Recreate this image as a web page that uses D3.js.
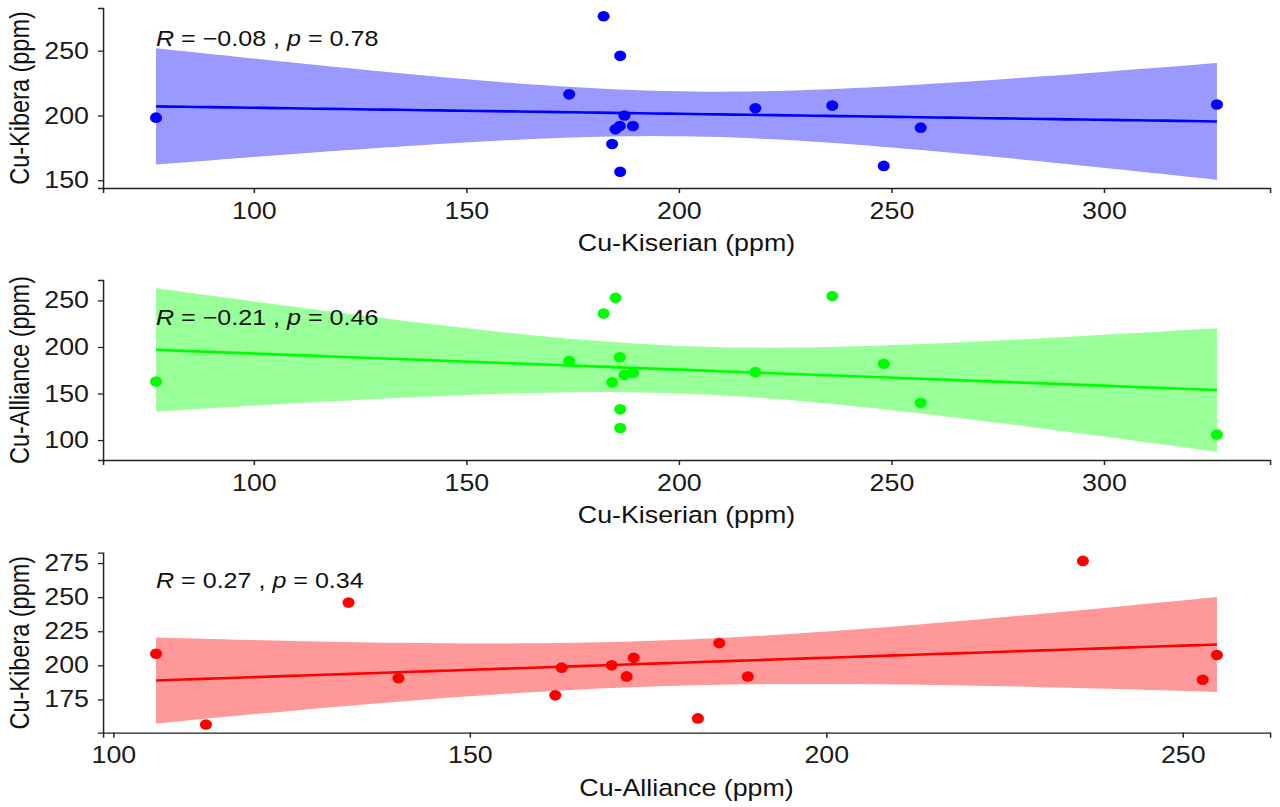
<!DOCTYPE html>
<html><head><meta charset="utf-8">
<script src="https://cdn.jsdelivr.net/npm/d3@7"></script>
<style>
body{margin:0;background:#fff;}
text{font-family:"Liberation Sans",Arial,sans-serif;}
</style>
</head><body>
<svg id="chart" width="1280" height="807"></svg>
<script>
// ---- data ----
const kiserian = [77.0,174.2,182.3,186.2,187.2,189.2,186.1,185.1,184.3,186.2,218.0,236.1,248.2,256.9,326.6];
const alliance = [162.9,185.0,236.0,133.0,169.9,172.0,189.0,252.8,162.0,113.0,173.0,254.8,182.0,140.0,106.0];
const kibera   = [198.3,216.3,276.6,246.0,200.0,191.9,191.8,189.4,178.0,156.6,205.5,207.6,161.1,190.6,208.5];

const xTitles = ["Cu-Kiserian (ppm)","Cu-Kiserian (ppm)","Cu-Alliance (ppm)"];
const yTitles = ["Cu-Kibera (ppm)","Cu-Alliance (ppm)","Cu-Kibera (ppm)"];
const statR = ["\u22120.08","\u22120.21","0.27"];
const statP = ["0.78","0.46","0.34"];
const xTickValues = [[100,150,200,250,300],[100,150,200,250,300],[100,150,200,250]];
const yTickValues = [[150,200,250],[100,150,200,250],[175,200,225,250,275]];

// ---- styling / layout ----
const pointColors = ["#0000FF","#00FF00","#FF0000"];
const ribbonColors = ["#9999FF","#99FF99","#FF9999"];
const SX = 1.14;               // the reference is stretched horizontally
const plotLeft = 103/SX, plotRight = 1270/SX;
const panelTops = [8, 280, 552.7];
const panelH = 180;
const labelOffsets = [38, 45, 35];
const FS = 23.5;

const svg = d3.select("#chart");
const root = svg.append("g").attr("transform", `scale(${SX},1)`);

const series = [
  {x: kiserian, y: kibera},
  {x: kiserian, y: alliance},
  {x: alliance, y: kibera}
];

function fit(xs, ys){
  const n = xs.length;
  const mx = d3.mean(xs), my = d3.mean(ys);
  let sxx=0, sxy=0;
  for(let i=0;i<n;i++){ sxx += (xs[i]-mx)**2; sxy += (xs[i]-mx)*(ys[i]-my); }
  const b = sxy/sxx, a = my - b*mx;
  let sse = 0;
  for(let i=0;i<n;i++){ sse += (ys[i]-(a+b*xs[i]))**2; }
  const s = Math.sqrt(sse/(n-2));
  const t = 2.160369; // qt(0.975, 13)
  const x0 = d3.min(xs), x1 = d3.max(xs);
  return d3.range(80).map(i => {
    const xv = x0 + (x1-x0)*i/79;
    const yh = a + b*xv;
    const se = s*Math.sqrt(1/n + (xv-mx)**2/sxx);
    return {x: xv, y: yh, lo: yh - t*se, hi: yh + t*se};
  });
}

function expand(lo, hi){ const d=(hi-lo)*0.05; return [lo-d, hi+d]; }

series.forEach((s, k) => {
  const top = panelTops[k], bottom = top + panelH;
  const pts = fit(s.x, s.y);
  const xDom = expand(d3.min(s.x), d3.max(s.x));
  const yDom = expand(Math.min(d3.min(s.y), d3.min(pts, d=>d.lo)), Math.max(d3.max(s.y), d3.max(pts, d=>d.hi)));
  const x = d3.scaleLinear().domain(xDom).range([plotLeft, plotRight]);
  const y = d3.scaleLinear().domain(yDom).range([bottom, top]);
  const g = root.append("g");

  g.append("path").datum(pts)
    .attr("d", d3.area().x(d=>x(d.x)).y0(d=>y(d.lo)).y1(d=>y(d.hi)))
    .attr("fill", ribbonColors[k]);
  g.append("path").datum(pts)
    .attr("d", d3.line().x(d=>x(d.x)).y(d=>y(d.y)))
    .attr("fill","none").attr("stroke", pointColors[k]).attr("stroke-width", 2.6);
  g.selectAll("circle.pt").data(s.x.map((v,i)=>({x:v, y:s.y[i]}))).join("circle")
    .attr("class","pt").attr("cx", d=>x(d.x)).attr("cy", d=>y(d.y)).attr("r", 5.3)
    .attr("fill", pointColors[k]);

  const xa = g.append("g").attr("transform", `translate(0,${bottom})`)
    .call(d3.axisBottom(x).tickValues(xTickValues[k]).tickSizeOuter(0).tickSize(5).tickPadding(9));
  const ya = g.append("g").attr("transform", `translate(${plotLeft},0)`)
    .call(d3.axisLeft(y).tickValues(yTickValues[k]).tickSizeOuter(0).tickSize(5/SX).tickPadding(9/SX));
  [xa, ya].forEach(a => {
    a.select(".domain").attr("stroke","#222").attr("stroke-width",1.3);
    a.selectAll(".tick line").attr("stroke","#222").attr("stroke-width",1.3);
    a.selectAll(".tick text").attr("fill","#1a1a1a").style("font-size", FS+"px")
      .style("font-family",'"Liberation Sans",Arial,sans-serif');
  });

  g.append("text").attr("x", (plotLeft+plotRight)/2).attr("y", bottom + 63)
    .attr("text-anchor","middle").attr("fill","#111").style("font-size", FS+"px").text(xTitles[k]);
  g.append("text").attr("transform", `translate(${29/SX},${top+panelH/2}) rotate(-90)`)
    .attr("text-anchor","middle").attr("fill","#111").style("font-size", FS+"px").text(yTitles[k]);

  const lab = g.append("text").attr("x", x(d3.min(s.x))).attr("y", top + labelOffsets[k])
    .attr("fill","#111").style("font-size","22px");
  lab.append("tspan").attr("font-style","italic").text("R");
  lab.append("tspan").text(" = " + statR[k] + " , ");
  lab.append("tspan").attr("font-style","italic").text("p");
  lab.append("tspan").text(" = " + statP[k]);
});
</script>
</body></html>
